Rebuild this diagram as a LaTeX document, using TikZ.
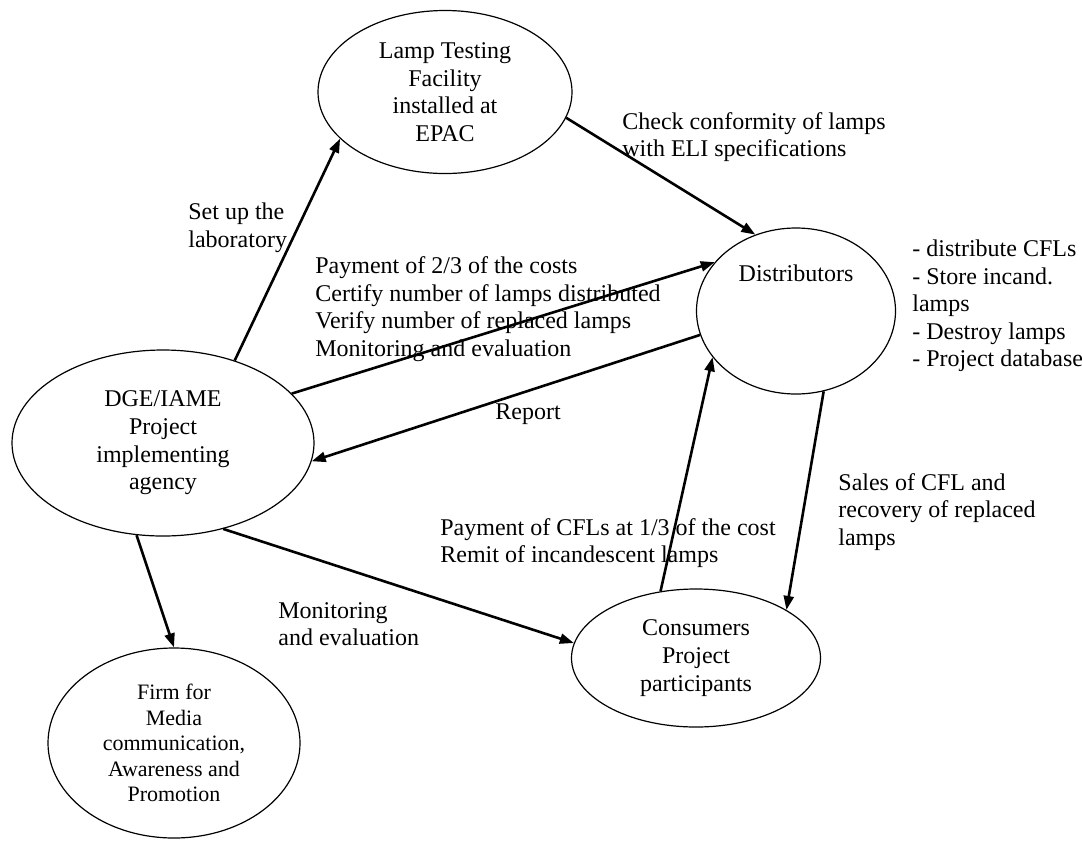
\documentclass[tikz,border=0pt]{standalone}
\usepackage{fontspec}
\setmainfont{Liberation Serif}
\usetikzlibrary{arrows.meta, shapes.geometric}

\begin{document}
\begin{tikzpicture}[
    x=0.5pt, y=-0.5pt,
    bubble/.style={ellipse, draw, line width=0.6pt, inner sep=0pt, align=center, font=\fontsize{12}{13.8}\selectfont},
    flow/.style={-{Triangle[length=7pt, width=5pt]}, line width=1.3pt},
    note/.style={anchor=west, inner sep=0pt, align=left, font=\fontsize{12}{13.8}\selectfont}
]
  \useasboundingbox (0,0) rectangle (1082,842);

  % Actors (ellipses)
  \node[bubble, minimum width=127pt, minimum height=81.5pt] (lab) at (445,92) {Lamp Testing\\Facility\\installed at\\EPAC};
  \node[bubble, minimum width=99.5pt, minimum height=83pt] (dist) at (796,311) {};
  \node[font=\fontsize{12}{13.8}\selectfont, inner sep=0pt] (distname) at (796,273) {Distributors};
  \node[bubble, minimum width=151pt, minimum height=93pt] (dge) at (163,443) {DGE/IAME\\Project\\implementing\\agency};
  \node[bubble, minimum width=126pt, minimum height=95pt, font=\fontsize{11}{12.8}\selectfont] (firm) at (174,743) {Firm for\\Media\\communication,\\Awareness and\\Promotion};
  \node[bubble, minimum width=124.5pt, minimum height=69pt] (cons) at (696,658) {Consumers\\Project\\participants};

  % Flows between actors
  \draw[flow] (dge.49) -- (lab.204);
  \draw[flow] (lab.348) -- (dist.118);
  \draw[flow] (dge.21) -- (dist.149);
  \draw[flow] (dist.194) -- (dge.353);
  \draw[flow] (dge.254) -- (firm.90);
  \draw[flow] (dge.305) -- (cons.173);
  \draw[flow] (cons.118) -- (dist.209);
  \draw[flow] (dist.289) -- (cons.28);

  % Flow labels
  \node[note] (chk) at (622,137) {Check conformity of lamps\\with ELI specifications};
  \node[note] (setup) at (188,228) {Set up the\\laboratory};
  \node[note] (pay) at (315,309) {Payment of 2/3 of the costs\\Certify number of lamps distributed\\Verify number of replaced lamps\\Monitoring and evaluation};
  \node[note, anchor=center] (report) at (528,414) {Report};
  \node[note] (paycfl) at (440,543) {Payment of CFLs at 1/3 of the cost\\Remit of incandescent lamps};
  \node[note] (sales) at (838,512) {Sales of CFL and\\recovery of replaced\\lamps};
  \node[note] (mon) at (278,624) {Monitoring\\and evaluation};
  \node[note] (tasks) at (912,306) {- distribute CFLs\\- Store incand.\\lamps\\- Destroy lamps\\- Project database};

\end{tikzpicture}
\end{document}
